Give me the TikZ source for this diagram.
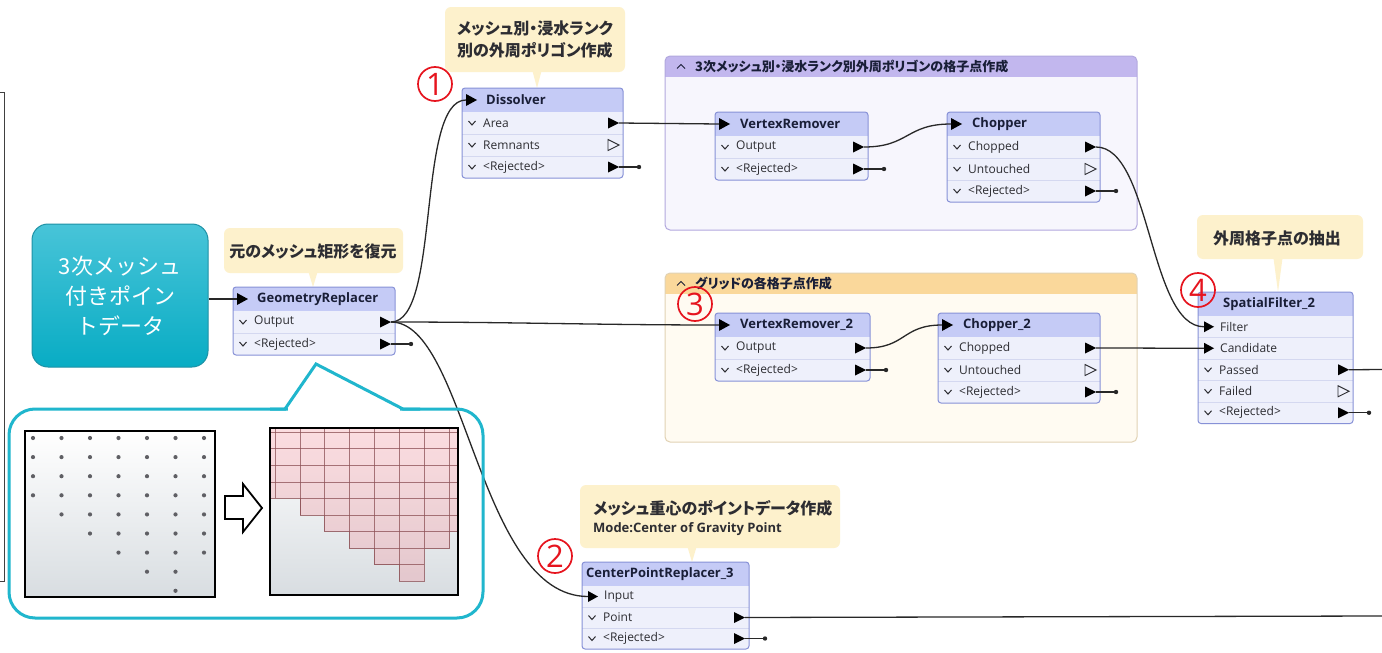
\documentclass[tikz,border=0pt]{standalone}
\usepackage{fontspec}
\setmainfont{Open Sans}
\newfontfamily\jp{Noto Sans CJK JP}[RawFeature=+palt]
\newfontfamily\jpfull{Noto Sans CJK JP}
\definecolor{hdrfill}{RGB}{197,203,246}
\definecolor{rowfill}{RGB}{238,240,251}
\definecolor{boxborder}{RGB}{135,145,215}
\definecolor{sepcol}{RGB}{212,216,240}
\definecolor{txtcol}{RGB}{45,45,50}
\definecolor{hdrtxt}{RGB}{25,30,55}
\definecolor{conncol}{RGB}{40,40,40}
\definecolor{callfill}{RGB}{253,241,204}
\definecolor{tealline}{RGB}{32,182,205}
\definecolor{tealtop}{RGB}{72,196,216}
\definecolor{tealbot}{RGB}{8,172,196}
\definecolor{tealborder}{RGB}{30,145,165}
\definecolor{numred}{RGB}{230,20,30}
\definecolor{bmAhdr}{RGB}{194,183,238}
\definecolor{bmAbody}{RGB}{247,246,253}
\definecolor{bmAborder}{RGB}{178,168,222}
\definecolor{bmBhdr}{RGB}{250,216,155}
\definecolor{bmBbody}{RGB}{255,251,242}
\definecolor{bmBborder}{RGB}{225,210,180}
\definecolor{picbot}{RGB}{216,221,225}
\definecolor{pinkfill}{RGB}{245,150,160}
\definecolor{gridcol}{RGB}{140,80,85}
\definecolor{dotcol}{RGB}{95,95,100}
\tikzset{
 conn/.style={draw=conncol, line width=1.3pt},
 boxline/.style={draw=boxborder, line width=1pt},
 sepline/.style={draw=sepcol, line width=0.8pt},
 chev/.style={draw=txtcol, line width=1pt},
 portarrow/.style={fill=black},
 hollowarrow/.style={draw=txtcol, line width=0.9pt, line join=miter},
 portlbl/.style={font=\fontsize{12}{14}\selectfont, text=txtcol, inner sep=0pt},
 hdrlbl/.style={font=\bfseries\fontsize{13}{15}\selectfont, text=hdrtxt, inner sep=0pt},
 calltxt/.style={font=\jp\bfseries\fontsize{16}{22}\selectfont, text=txtcol, inner sep=0pt, align=left},
 callen/.style={font=\bfseries\fontsize{13}{15}\selectfont, text=txtcol, inner sep=0pt},
 bmlbl/.style={font=\jp\bfseries\fontsize{13}{15}\selectfont, text=hdrtxt, inner sep=0pt},
 numcirc/.style={circle, draw=numred, line width=1.7pt, minimum size=34pt, inner sep=0pt, text=numred, font=\fontsize{31}{31}\selectfont},
 srcbox/.style={rounded corners=16pt, top color=tealtop, bottom color=tealbot, draw=tealborder, line width=1pt, minimum width=176pt, minimum height=143pt, text=white, align=center, font=\jpfull\fontsize{22}{30}\selectfont},
 picframe/.style={draw=black, line width=1.6pt},
 picshade/.style={top color=white, bottom color=picbot},
 tealcall/.style={draw=tealline, line width=3pt},
 gridline/.style={draw=gridcol, draw opacity=0.75, line width=0.7pt},
 callshape/.style={fill=callfill},
}
% frame of a transformer: name, x, y, width, rows, row height
\newcommand\fmeframe[6]{%
 \pgfmathsetmacro\fh{24+#5*#6}%
 \fill[rowfill, rounded corners=3pt] (#2,#3) rectangle ++(#4,\fh);
 \begin{scope}
 \clip[rounded corners=3pt] (#2,#3) rectangle ++(#4,\fh);
 \fill[hdrfill] (#2,#3) rectangle ++(#4,24);
 \foreach \k in {2,...,#5} {\draw[sepline] (#2,#3+24+\k*#6-#6) -- ++(#4,0);}
 \end{scope}
 \draw[boxline, rounded corners=3pt] (#2,#3) rectangle ++(#4,\fh);
 \path (#2,#3) node[inner sep=0pt, minimum width=#4pt, minimum height=\fh*1pt, anchor=north west] (#1) {};
}
\newcommand\hdrin[3]{%
 \fill[portarrow] (#2+4,#3-6) -- (#2+15,#3) -- (#2+4,#3+6) -- cycle;
 \coordinate (#1) at (#2+4,#3);
}
\newcommand\inrow[4]{%
 \fill[portarrow] (#2+6,#3-5.5) -- (#2+16,#3) -- (#2+6,#3+5.5) -- cycle;
 \coordinate (#1) at (#2+6,#3);
 \node[portlbl, anchor=west] (#1-l) at (#2+22,#3) {#4};
}
\newcommand\outrow[5]{%
 \draw[chev] (#2+6.5,#4-2) -- (#2+10,#4+2) -- (#2+13.5,#4-2);
 \node[portlbl, anchor=west] (#1-l) at (#2+21,#4) {#5};
 \fill[portarrow] (#2+#3-15,#4-5.5) -- (#2+#3-4,#4) -- (#2+#3-15,#4+5.5) -- cycle;
 \coordinate (#1) at (#2+#3-4,#4);
}
\newcommand\hollowrow[5]{%
 \draw[chev] (#2+6.5,#4-2) -- (#2+10,#4+2) -- (#2+13.5,#4-2);
 \node[portlbl, anchor=west] (#1) at (#2+21,#4) {#5};
 \draw[hollowarrow] (#2+#3-15,#4-5.5) -- (#2+#3-4,#4) -- (#2+#3-15,#4+5.5) -- cycle;
}
\newcommand\rejrow[4]{%
 \outrow{#1}{#2}{#3}{#4}{<Rejected>}
 \coordinate (#1-end) at (#2+#3+16,#4);
 \draw[conn] (#1) -- (#1-end);
 \fill[conncol] (#1-end) circle (2.2);
}
\newcommand\callout[6]{%
 \fill[callshape, rounded corners=6pt] (#1,#2) rectangle (#3,#4);
 \fill[callshape] (#5-4.5,#4-1) -- (#5,#6) -- (#5+4.5,#4-1) -- cycle;
}
\newcommand\bookmark[9]{%
 \fill[#7, rounded corners=5pt] (#2,#3) rectangle (#4,#5);
 \begin{scope}
 \clip[rounded corners=5pt] (#2,#3) rectangle (#4,#5);
 \fill[#6] (#2,#3) rectangle (#4,#3+21);
 \end{scope}
 \draw[draw=#8, line width=1pt, rounded corners=5pt] (#2,#3) rectangle (#4,#5);
 \draw[hdrtxt, line width=0.9pt] (#2+12,#3+12.5) -- (#2+16,#3+8.5) -- (#2+20,#3+12.5);
 \node[bmlbl, anchor=west] (#1) at (#2+30,#3+10.5) {#9};
}
\begin{document}
\begin{tikzpicture}[x=1pt,y=-1pt]
\useasboundingbox (0,0) rectangle (1382,653);
\fill[white] (0,0) rectangle (1382,653);

% bookmarks
\bookmark{bmA}{665}{56}{1137}{230}{bmAhdr}{bmAbody}{bmAborder}{3次メッシュ別・浸水ランク別外周ポリゴンの格子点作成}
\bookmark{bmB}{665}{273}{1137}{442}{bmBhdr}{bmBbody}{bmBborder}{グリッドの各格子点作成}

% left partial frame
\draw[draw=black!75, line width=1pt] (-2,92) -- (4,92) -- (4,581) -- (-2,581);

% source
\node[srcbox] (src) at (120,295.5) {3次メッシュ\\付きポイン\\トデータ};

% GeometryReplacer
\callout{224}{228}{403}{273}{313}{287}
\node[calltxt] (tGR) at (313,251) {元のメッシュ矩形を復元};
\fmeframe{gr}{233}{287}{162}{2}{22}
\hdrin{gr-in}{233}{299}
\node[hdrlbl, anchor=west] (gr-t) at (257,299) {GeometryReplacer};
\outrow{gr-out}{233}{162}{322}{Output}
\rejrow{gr-rej}{233}{162}{344}

% Dissolver
\callout{445}{7}{625}{72}{537}{88}
\node[calltxt] (tDis) at (535,40) {メッシュ別・浸水ランク\\別の外周ポリゴン作成};
\fmeframe{dis}{462}{88}{161}{3}{22}
\hdrin{dis-in}{462}{100}
\node[hdrlbl, anchor=west] (dis-t) at (486,100) {Dissolver};
\outrow{dis-area}{462}{161}{123}{Area}
\hollowrow{dis-rem}{462}{161}{145}{Remnants}
\rejrow{dis-rej}{462}{161}{167}

% VertexRemover
\fmeframe{vr}{715}{112}{153}{2}{22}
\hdrin{vr-in}{715}{124}
\node[hdrlbl, anchor=west] (vr-t) at (740,124) {VertexRemover};
\outrow{vr-out}{715}{153}{147}{Output}
\rejrow{vr-rej}{715}{153}{169}

% Chopper
\fmeframe{ch}{947}{112}{153}{3}{22}
\hdrin{ch-in}{947}{124}
\node[hdrlbl, anchor=west] (ch-t) at (972,124) {Chopper};
\outrow{ch-chop}{947}{153}{147}{Chopped}
\hollowrow{ch-unt}{947}{153}{169}{Untouched}
\rejrow{ch-rej}{947}{153}{191}

% VertexRemover_2
\fmeframe{vr2}{715}{313}{155}{2}{22}
\hdrin{vr2-in}{715}{325}
\node[hdrlbl, anchor=west] (vr2-t) at (740,325) {VertexRemover\_2};
\outrow{vr2-out}{715}{155}{348}{Output}
\rejrow{vr2-rej}{715}{155}{370}

% Chopper_2
\fmeframe{ch2}{938}{313}{162}{3}{22}
\hdrin{ch2-in}{938}{325}
\node[hdrlbl, anchor=west] (ch2-t) at (963,325) {Chopper\_2};
\outrow{ch2-chop}{938}{162}{348}{Chopped}
\hollowrow{ch2-unt}{938}{162}{370}{Untouched}
\rejrow{ch2-rej}{938}{162}{392}

% SpatialFilter_2
\callout{1197}{215}{1363}{259}{1278}{292}
\node[calltxt] (tSF) at (1277,238) {外周格子点の抽出};
\fmeframe{sf}{1198}{292}{155}{5}{21.5}
\node[hdrlbl, anchor=west] (sf-t) at (1223,304) {SpatialFilter\_2};
\inrow{sf-filter}{1198}{326.75}{Filter}
\inrow{sf-cand}{1198}{348.25}{Candidate}
\outrow{sf-pass}{1198}{155}{369.75}{Passed}
\hollowrow{sf-fail}{1198}{155}{391.25}{Failed}
\rejrow{sf-rej}{1198}{155}{412.75}

% CenterPointReplacer_3
\callout{580}{485}{840}{548}{692}{562}
\node[calltxt, anchor=west] (tCPa) at (593,508) {メッシュ重心のポイントデータ作成};
\node[callen, anchor=west] (tCPb) at (593,529) {Mode:Center of Gravity Point};
\fmeframe{cpr}{582}{562}{167}{3}{21}
\node[hdrlbl, anchor=west] (cpr-t) at (586,574) {CenterPointReplacer\_3};
\inrow{cpr-in}{582}{596.5}{Input}
\outrow{cpr-pt}{582}{167}{617.5}{Point}
\rejrow{cpr-rej}{582}{167}{638.5}

% free ends at the right edge
\coordinate (edgeA) at (1382,369.5);
\coordinate (edgeB) at (1382,616);

% connectors
\draw[conn] (src.east |- gr-in) -- (gr-in);
\draw[conn] (gr-out) .. controls +(50,0) and +(-50,0) .. (dis-in);
\draw[conn] (gr-out) .. controls +(120,0) and +(-120,0) .. (vr2-in);
\draw[conn] (gr-out) .. controls +(75,0) and +(-110,0) .. (cpr-in);
\draw[conn] (dis-area) .. controls +(50,0) and +(-50,0) .. (vr-in);
\draw[conn] (vr-out) .. controls +(45,0) and +(-45,0) .. (ch-in);
\draw[conn] (ch-chop) .. controls +(55,0) and +(-55,0) .. (sf-filter);
\draw[conn] (vr2-out) .. controls +(40,0) and +(-40,0) .. (ch2-in);
\draw[conn] (ch2-chop) .. controls +(50,0) and +(-50,0) .. (sf-cand);
\draw[conn] (sf-pass) -- (edgeA);
\draw[conn] (cpr-pt) -- (edgeB);

% teal callout with the two pictures
\draw[tealcall, rounded corners=26pt] (9,409) rectangle (483,618);
\fill[white] (288,404) rectangle (400,414);
\draw[tealcall, line join=miter] (270,409) -- (285,409) -- (316,364) -- (403,409) -- (420,409);

% left picture: points
\shade[picshade] (25,431) rectangle (215,597);
\foreach \r/\a/\b in {1/1/7,2/1/7,3/1/7,4/1/7,5/2/7,6/3/7,7/4/7,8/5/6,9/6/6} {
  \foreach \c in {\a,...,\b} { \fill[dotcol] (4.5+28.5*\c, 418.9+19.1*\r) circle (2.1); }
}
\draw[picframe] (25,431) rectangle (215,597);

% block arrow
\draw[black, line width=1.8pt, fill=white, line join=miter] (225,496) -- (243,496) -- (243,484) -- (262,508) -- (243,532) -- (243,519) -- (225,519) -- cycle;

% right picture: grid
\shade[picshade] (270,428) rectangle (458,595);
\begin{scope}
\clip (270,428) -- (458,428) -- (458,531.3) -- (449.3,531.3) -- (449.3,548.3) -- (424,548.3) -- (424,581) -- (399.3,581) -- (399.3,564.7) -- (374.3,564.7) -- (374.3,548.3) -- (349.3,548.3) -- (349.3,531.3) -- (324.3,531.3) -- (324.3,515) -- (300,515) -- (300,498) -- (270,498) -- cycle;
\fill[pinkfill, fill opacity=0.32] (270,428) rectangle (458,595);
\foreach \gx in {275.7,300,324.3,349.3,374.3,399.3,424,449.3} {\draw[gridline] (\gx,428) -- (\gx,595);}
\foreach \gy in {432.7,448.3,465.3,482,498,515,531.3,548.3,564.7} {\draw[gridline] (270,\gy) -- (458,\gy);}
\end{scope}
\draw[gridline] (458,531.3) -- (449.3,531.3) -- (449.3,548.3) -- (424,548.3) -- (424,581) -- (399.3,581) -- (399.3,564.7) -- (374.3,564.7) -- (374.3,548.3) -- (349.3,548.3) -- (349.3,531.3) -- (324.3,531.3) -- (324.3,515) -- (300,515) -- (300,498) -- (270,498);
\draw[picframe] (270,428) rectangle (458,595);

% step numbers
\node[numcirc] (n1) at (435,84) {1};
\node[numcirc] (n2) at (555,556) {2};
\node[numcirc] (n3) at (695,304) {3};
\node[numcirc] (n4) at (1198,290) {4};
\end{tikzpicture}
\end{document}
